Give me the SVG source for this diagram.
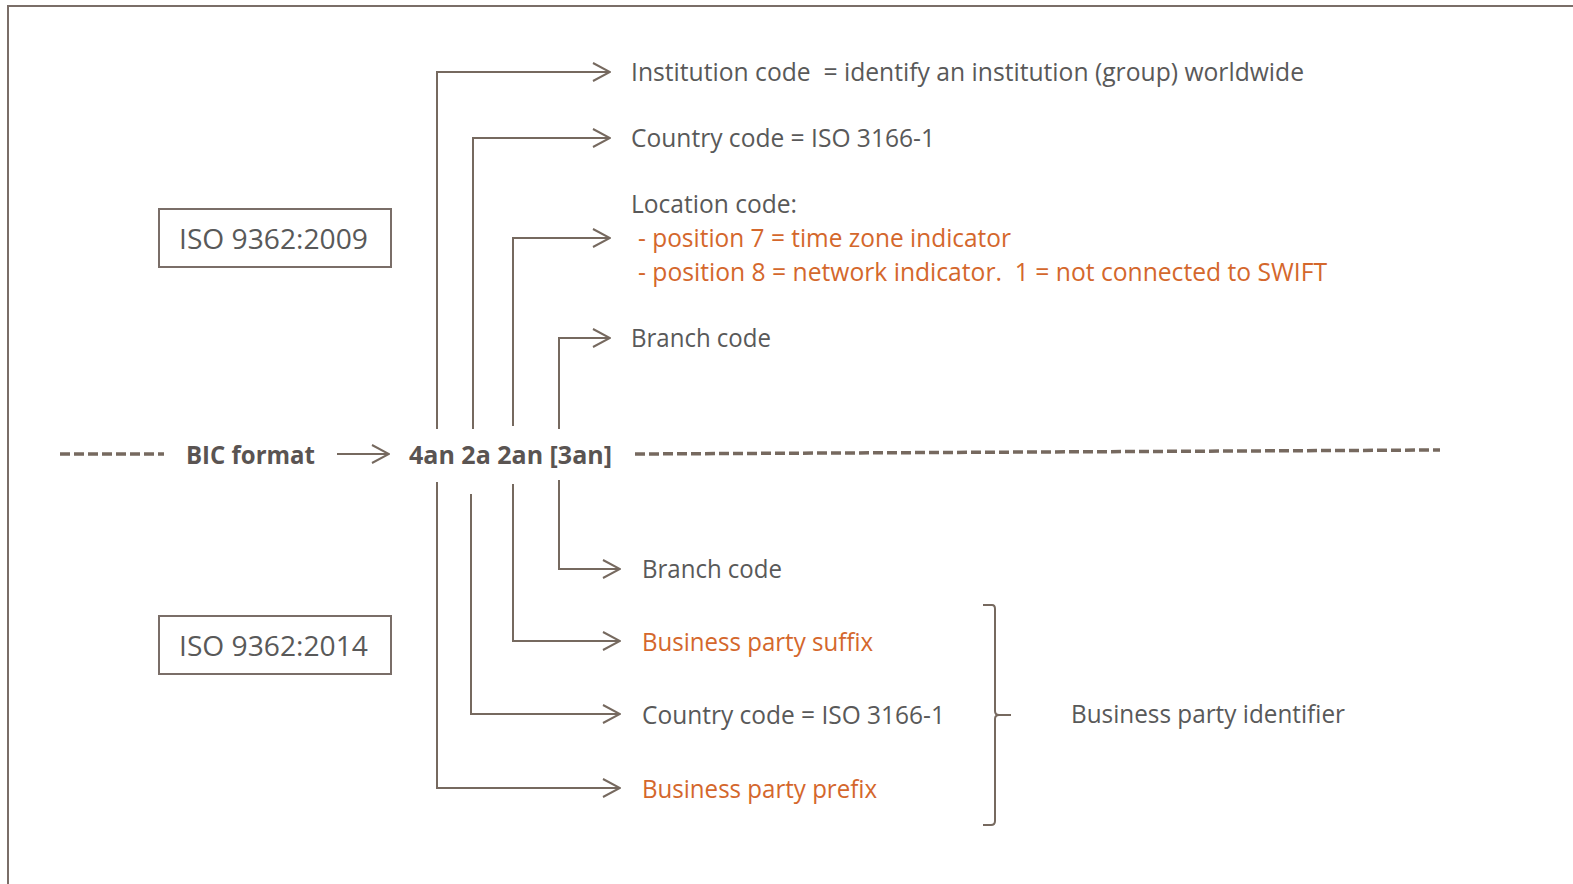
<svg xmlns="http://www.w3.org/2000/svg" width="1573" height="884" viewBox="0 0 1573 884">
<defs>
<marker id="arr" viewBox="0 0 20 20" refX="19" refY="10" markerWidth="20" markerHeight="20" markerUnits="userSpaceOnUse" orient="auto">
<path d="M2,1 L19,10 L2,19" fill="none" stroke="#76695f" stroke-width="2"/>
</marker>
<style>
text{font-family:"Open Sans","Liberation Sans",sans-serif;font-size:25px;fill:#595959}
.o{fill:#d4672c}
.b{font-weight:bold;fill:#5a5452}
.ln{fill:none;stroke:#76695f;stroke-width:2}
.dash{fill:none;stroke:#76695f;stroke-width:3.5;stroke-dasharray:10,4}
.box{fill:#fff;stroke:#7a6e68;stroke-width:2}
</style>
</defs>
<rect x="8" y="6" width="1600" height="900" fill="none" stroke="#7a6e68" stroke-width="2"/>

<g id="iso2009">
<rect class="box" x="159" y="209" width="232" height="58"/>
<text x="179" y="249" textLength="189" lengthAdjust="spacingAndGlyphs" style="font-size:27px">ISO 9362:2009</text>
</g>
<g id="iso2014">
<rect class="box" x="159" y="616" width="232" height="58"/>
<text x="179" y="656" textLength="189" lengthAdjust="spacingAndGlyphs" style="font-size:27px">ISO 9362:2014</text>
</g>

<g id="bic">
<text class="b" x="186" y="464" textLength="129" lengthAdjust="spacingAndGlyphs">BIC format</text>
<text class="b" x="409" y="464" textLength="203" lengthAdjust="spacingAndGlyphs">4an 2a 2an [3an]</text>
</g>

<g id="top-labels">
<text x="631" y="81" textLength="673" lengthAdjust="spacingAndGlyphs" xml:space="preserve">Institution code  = identify an institution (group) worldwide</text>
<text x="631" y="147" textLength="304" lengthAdjust="spacingAndGlyphs">Country code = ISO 3166-1</text>
<text x="631" y="213" textLength="166" lengthAdjust="spacingAndGlyphs">Location code:</text>
<text class="o" x="638" y="247" textLength="373" lengthAdjust="spacingAndGlyphs">- position 7 = time zone indicator</text>
<text class="o" x="638" y="281" textLength="689" lengthAdjust="spacingAndGlyphs" xml:space="preserve">- position 8 = network indicator.  1 = not connected to SWIFT</text>
<text x="631" y="347" textLength="140" lengthAdjust="spacingAndGlyphs">Branch code</text>
</g>

<g id="bottom-labels">
<text x="642" y="578" textLength="140" lengthAdjust="spacingAndGlyphs">Branch code</text>
<text class="o" x="642" y="651" textLength="231" lengthAdjust="spacingAndGlyphs">Business party suffix</text>
<text x="642" y="724" textLength="303" lengthAdjust="spacingAndGlyphs">Country code = ISO 3166-1</text>
<text class="o" x="642" y="798" textLength="235" lengthAdjust="spacingAndGlyphs">Business party prefix</text>
</g>

<g id="identifier">
<path class="ln" d="M983,605 L992,605 Q995,605 995,609 L995,711 Q995,715 999,715 L1011,715 M999,715 Q995,715 995,719 L995,821 Q995,825 991,825 L983,825" stroke-width="1.8"/>
<text x="1071" y="723" textLength="274" lengthAdjust="spacingAndGlyphs">Business party identifier</text>
</g>

<g id="connectors">
<line class="dash" x1="60" y1="454" x2="164" y2="454"/>
<line class="dash" x1="635" y1="454" x2="1440" y2="450"/>
<line class="ln" x1="337" y1="454" x2="389" y2="454" marker-end="url(#arr)"/>
<polyline class="ln" points="437,429 437,72 610,72" marker-end="url(#arr)"/>
<polyline class="ln" points="473,429 473,138 610,138" marker-end="url(#arr)"/>
<polyline class="ln" points="513,426 513,238 610,238" marker-end="url(#arr)"/>
<polyline class="ln" points="559,429 559,338 610,338" marker-end="url(#arr)"/>
<polyline class="ln" points="559,480 559,569 620,569" marker-end="url(#arr)"/>
<polyline class="ln" points="513,484 513,641 620,641" marker-end="url(#arr)"/>
<polyline class="ln" points="471,494 471,714 620,714" marker-end="url(#arr)"/>
<polyline class="ln" points="437,482 437,788 620,788" marker-end="url(#arr)"/>
</g>
</svg>
